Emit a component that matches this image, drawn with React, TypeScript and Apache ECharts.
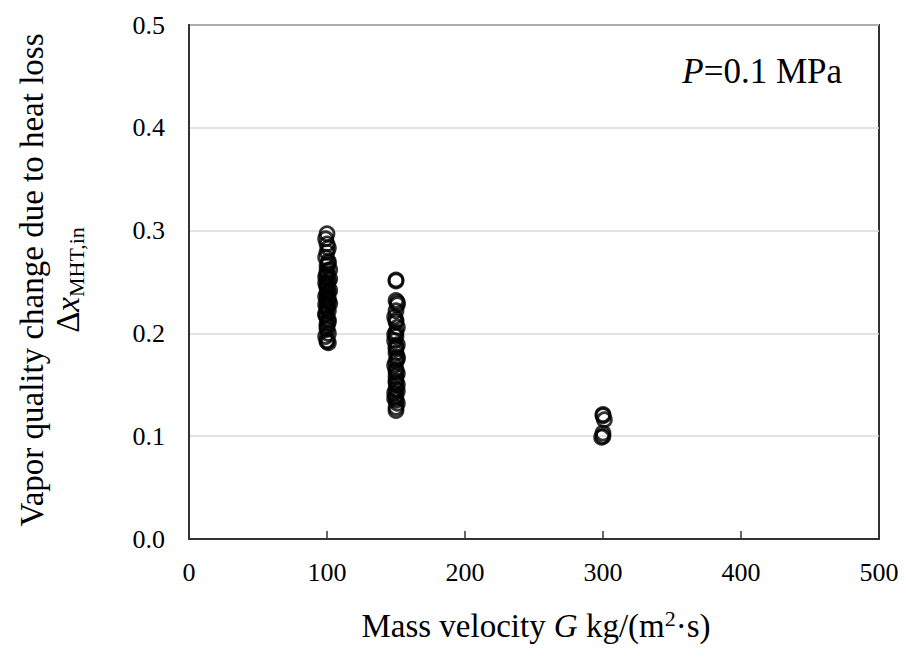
import React, { useEffect, useRef } from "react";
import * as echarts from "echarts";

const xTicks = [0, 100, 200, 300, 400, 500];
const yTicks = [0.0, 0.1, 0.2, 0.3, 0.4, 0.5];

const g100X = [100, 99, 100, 101, 100, 99, 101, 100, 102, 100, 99, 101, 100, 100, 101, 99, 100, 102, 100, 101, 99, 100, 101, 100, 100, 101, 99, 100, 101, 100, 101, 100, 99, 102, 100, 101, 100, 99, 101, 100, 102, 100, 101, 99, 100];
const g100Y = [0.297, 0.292, 0.287, 0.283, 0.279, 0.274, 0.27, 0.266, 0.262, 0.258, 0.255, 0.251, 0.247, 0.244, 0.24, 0.236, 0.233, 0.229, 0.226, 0.222, 0.218, 0.215, 0.211, 0.207, 0.204, 0.2, 0.197, 0.193, 0.191, 0.255, 0.268, 0.261, 0.249, 0.242, 0.238, 0.231, 0.224, 0.219, 0.213, 0.209, 0.253, 0.246, 0.234, 0.228, 0.192];

const g150X = [150, 150, 151, 150, 149, 150, 151, 150, 150, 149, 151, 150, 150, 151, 150, 149, 150, 151, 150, 150, 151, 150, 149, 150, 150, 151, 150, 150, 150, 151, 150, 149, 150, 151, 150, 150, 151, 149];
const g150Y = [0.251, 0.232, 0.228, 0.222, 0.216, 0.211, 0.206, 0.201, 0.197, 0.193, 0.189, 0.185, 0.181, 0.177, 0.173, 0.169, 0.165, 0.161, 0.158, 0.154, 0.15, 0.146, 0.142, 0.139, 0.135, 0.132, 0.128, 0.125, 0.252, 0.23, 0.213, 0.199, 0.187, 0.175, 0.163, 0.152, 0.144, 0.137];

const g300X = [300, 301, 300, 299, 300, 300];
const g300Y = [0.121, 0.116, 0.103, 0.099, 0.12, 0.1];

const FONT = "Liberation Serif";

export default function App() {
  const ref = useRef<HTMLDivElement>(null);
  useEffect(() => {
    document.body.style.margin = "0";
    const chart = echarts.init(ref.current!, null, { renderer: "svg" });
    const pts = (xs: number[], ys: number[]) => xs.map((x, i) => [x, ys[i]]);
    const data = [...pts(g100X, g100Y), ...pts(g150X, g150Y), ...pts(g300X, g300Y)];
    chart.setOption({
      animation: false,
      backgroundColor: "#ffffff",
      textStyle: { fontFamily: FONT },
      grid: {
        left: 189, top: 25, width: 690, height: 514,
        show: true, borderColor: "#333", borderWidth: 2, backgroundColor: "transparent",
      },
      xAxis: {
        type: "value", min: xTicks[0], max: xTicks[xTicks.length - 1], interval: 100,
        axisLine: { show: true, lineStyle: { color: "#333", width: 2 } },
        axisTick: { show: true, inside: true, length: 8, lineStyle: { color: "#333", width: 1.5 } },
        splitLine: { show: false },
        axisLabel: { color: "#000", fontSize: 26, fontFamily: FONT, margin: 20 },
      },
      yAxis: {
        type: "value", min: yTicks[0], max: yTicks[yTicks.length - 1], interval: 0.1,
        axisLine: { show: true, lineStyle: { color: "#333", width: 2 } },
        axisTick: { show: false },
        splitLine: { show: true, lineStyle: { color: "#d9d9d9", width: 1.5 } },
        axisLabel: { color: "#000", fontSize: 26, fontFamily: FONT, margin: 24, formatter: (v: number) => v.toFixed(1) },
      },
      series: [
        {
          type: "scatter",
          data,
          symbol: "circle",
          symbolSize: 14,
          itemStyle: { color: "transparent", borderColor: "#000", borderWidth: 2.8 },
        },
      ],
      graphic: [
        {
          type: "text", x: 842, y: 71,
          style: {
            text: "{i|P}{n|=0.1 MPa}",
            align: "right", verticalAlign: "middle",
            rich: {
              i: { fontFamily: FONT, fontSize: 35, fontStyle: "italic", fill: "#000" },
              n: { fontFamily: FONT, fontSize: 35, fill: "#000" },
            },
          },
        },
        {
          type: "text", x: 536, y: 626,
          style: {
            text: "{n|Mass velocity }{i|G}{n| kg/(m}{s|2}{n|·s)}",
            align: "center", verticalAlign: "middle",
            rich: {
              n: { fontFamily: FONT, fontSize: 33, fill: "#000", lineHeight: 38 },
              i: { fontFamily: FONT, fontSize: 33, fontStyle: "italic", fill: "#000", lineHeight: 38 },
              s: { fontFamily: FONT, fontSize: 22, fill: "#000", verticalAlign: "top", lineHeight: 38, padding: [0, 0, 11, 0] },
            },
          },
        },
        {
          type: "text", x: 32, y: 280, rotation: Math.PI / 2,
          style: {
            text: "Vapor quality change due to heat loss",
            align: "center", verticalAlign: "middle",
            fontFamily: FONT, fontSize: 33, fill: "#000",
          },
        },
        {
          type: "text", x: 68, y: 280, rotation: Math.PI / 2,
          style: {
            text: "{n|Δ}{i|x}{s|MHT,in}",
            align: "center", verticalAlign: "middle",
            rich: {
              n: { fontFamily: FONT, fontSize: 33, fill: "#000", lineHeight: 38 },
              i: { fontFamily: FONT, fontSize: 33, fontStyle: "italic", fill: "#000", lineHeight: 38 },
              s: { fontFamily: FONT, fontSize: 22, fill: "#000", lineHeight: 38, verticalAlign: "bottom", padding: [13, 0, 0, 0] },
            },
          },
        },
      ],
    });
    return () => chart.dispose();
  }, []);
  return <div ref={ref} style={{ width: 906, height: 663 }} />;
}
